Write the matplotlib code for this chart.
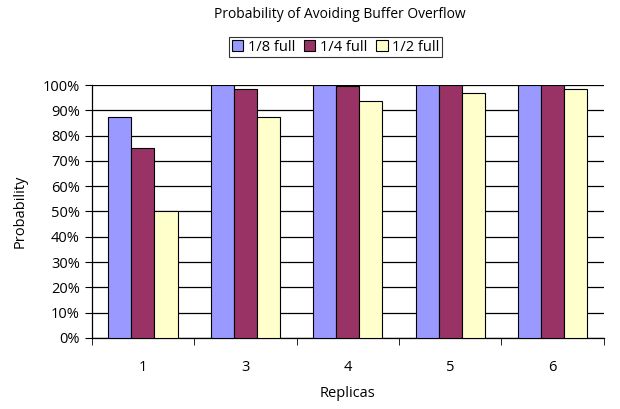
import numpy as np
import matplotlib.pyplot as plt
from matplotlib.ticker import PercentFormatter

replicas = ["1", "3", "4", "5", "6"]
series = ["1/8 full", "1/4 full", "1/2 full"]
eighth = [87.5, 100.0, 100.0, 100.0, 100.0]
quarter = [75.0, 98.4, 99.6, 99.9, 100.0]
half = [50.0, 87.5, 93.75, 96.9, 98.4]
colors = ["#9999FF", "#993366", "#FFFFCC"]

plt.rcParams["font.family"] = ["Open Sans", "DejaVu Sans"]

fig = plt.figure(figsize=(6.2, 4.09), dpi=100)
ax = fig.add_axes([0.148, 0.174, 0.826, 0.618])

x = np.arange(len(replicas))
w = 0.225
for i, (vals, lab, c) in enumerate(zip([eighth, quarter, half], series, colors)):
    ax.bar(x + (i - 1) * w, vals, w, color=c, edgecolor="black", linewidth=0.8,
           label=lab, zorder=3)

ax.set_xlim(-0.5, len(replicas) - 0.5)
ax.set_ylim(0, 100)
ax.set_yticks(np.arange(0, 101, 10))
ax.yaxis.set_major_formatter(PercentFormatter(decimals=0))
ax.yaxis.grid(True, color="black", linewidth=0.9, zorder=0)
ax.set_xticks(x)
ax.set_xticklabels(replicas)
ax.set_xticks(np.arange(-0.5, len(replicas), 1), minor=True)
ax.tick_params(axis="x", which="major", length=0, pad=16, labelsize=10.5)
ax.tick_params(axis="x", which="minor", length=5, direction="out")
ax.tick_params(axis="y", length=5, labelsize=10.5)
for s in ["top", "right"]:
    ax.spines[s].set_visible(False)
ax.spines["left"].set_linewidth(0.9)
ax.spines["bottom"].set_linewidth(0.9)

ax.set_xlabel("Replicas", fontsize=10.5, labelpad=8)
ax.set_ylabel("Probability", fontsize=10.5, labelpad=11)
fig.text(0.548, 0.965, "Probability of Avoiding Buffer Overflow", ha="center",
         va="center", fontsize=10)

leg = fig.legend(loc="center", bbox_to_anchor=(0.541, 0.885), ncol=3, fontsize=10.5,
                 frameon=True, fancybox=False, edgecolor="black", handlelength=0.8,
                 handleheight=0.8, handletextpad=0.3, columnspacing=0.6,
                 borderpad=0.2)
leg.get_frame().set_linewidth(0.8)

fig.savefig("out.png", dpi=100)
